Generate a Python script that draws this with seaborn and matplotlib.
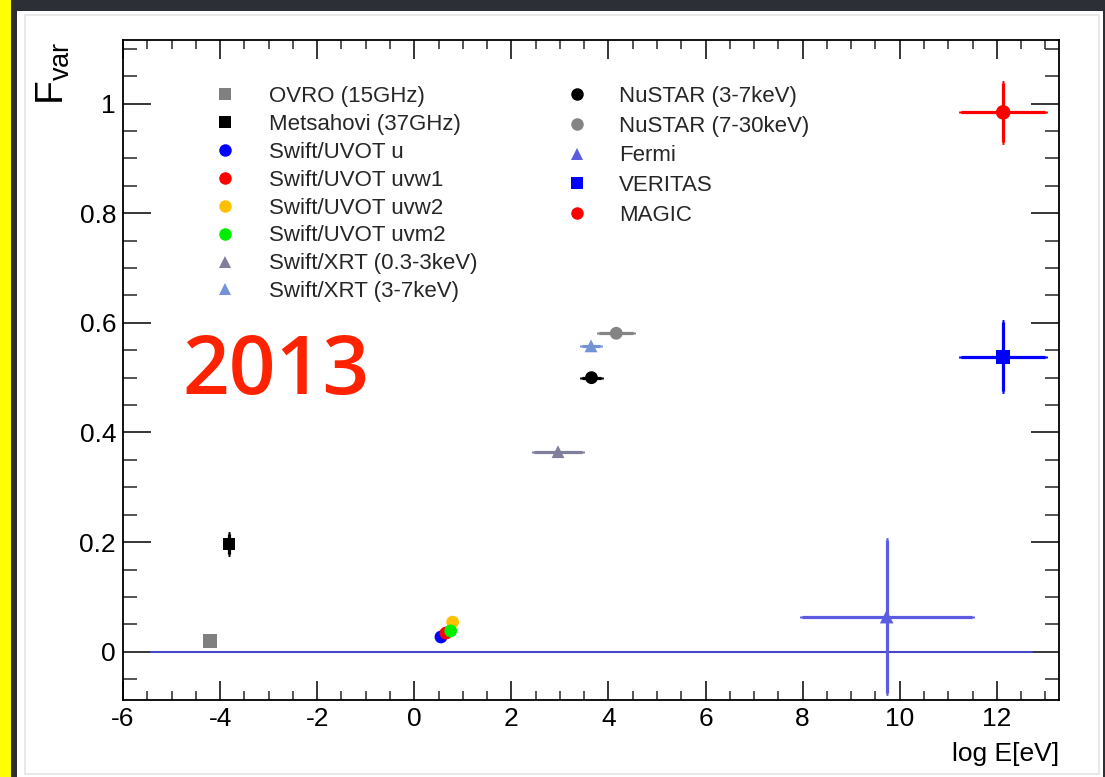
import numpy as np
import pandas as pd
import matplotlib
matplotlib.use("Agg")
import matplotlib.pyplot as plt
import seaborn as sns
from matplotlib.lines import Line2D
from matplotlib.patches import Rectangle
from matplotlib.ticker import MultipleLocator

# ---------------- data ----------------
instruments = ["OVRO (15GHz)", "Metsahovi (37GHz)", "Swift/UVOT u", "Swift/UVOT uvw1",
               "Swift/UVOT uvw2", "Swift/UVOT uvm2", "Swift/XRT (0.3-3keV)",
               "Swift/XRT (3-7keV)", "NuSTAR (3-7keV)", "NuSTAR (7-30keV)",
               "Fermi", "VERITAS", "MAGIC"]
log_e = [-4.21, -3.82, 0.55, 0.65, 0.79, 0.75, 2.96, 3.64, 3.65, 4.16, 9.73, 12.13, 12.13]
f_var = [0.020, 0.196, 0.027, 0.034, 0.054, 0.038, 0.365, 0.558, 0.500, 0.581, 0.064, 0.538, 0.984]
x_err = [0.0, 0.0, 0.0, 0.0, 0.0, 0.0, 0.50, 0.19, 0.20, 0.35, 1.75, 0.87, 0.87]
y_err = [0.0, 0.018, 0.0, 0.0, 0.0, 0.0, 0.0, 0.0, 0.0, 0.0, 0.14, 0.063, 0.054]

legend_col1 = instruments[:8]
legend_col2 = ["NuSTAR (3-7keV)", "NuSTAR (7-30keV)", "Fermi", "VERITAS", "MAGIC"]

zero_line_x = [-5.42, 12.72]
zero_line_y = [0.0, 0.0]

x_ticks = [-6, -4, -2, 0, 2, 4, 6, 8, 10, 12]
y_ticks = [0, 0.2, 0.4, 0.6, 0.8, 1]
y_tick_labels = ["0", "0.2", "0.4", "0.6", "0.8", "1"]

# ---------------- styles ----------------
colors = {
    "OVRO (15GHz)": "#808080", "Metsahovi (37GHz)": "#000000",
    "Swift/UVOT u": "#0000ff", "Swift/UVOT uvw1": "#ff0000",
    "Swift/UVOT uvw2": "#ffc000", "Swift/UVOT uvm2": "#00ee00",
    "Swift/XRT (0.3-3keV)": "#7f7f9c", "Swift/XRT (3-7keV)": "#7393d6",
    "NuSTAR (3-7keV)": "#000000", "NuSTAR (7-30keV)": "#848484",
    "Fermi": "#5c5ce0", "VERITAS": "#0000ff", "MAGIC": "#ff0000",
}
markers = {
    "OVRO (15GHz)": "s", "Metsahovi (37GHz)": "s",
    "Swift/UVOT u": "o", "Swift/UVOT uvw1": "o", "Swift/UVOT uvw2": "o",
    "Swift/UVOT uvm2": "o", "Swift/XRT (0.3-3keV)": "^", "Swift/XRT (3-7keV)": "^",
    "NuSTAR (3-7keV)": "o", "NuSTAR (7-30keV)": "o", "Fermi": "^",
    "VERITAS": "s", "MAGIC": "o",
}
sizes = {k: 85 for k in instruments}
sizes["Metsahovi (37GHz)"] = 75
sizes["OVRO (15GHz)"] = 95
sizes["VERITAS"] = 95
sizes["MAGIC"] = 110
sizes["Fermi"] = 95

df = pd.DataFrame({"instrument": instruments, "log_e": log_e, "f_var": f_var,
                   "x_err": x_err, "y_err": y_err})

sns.set_theme(style="ticks")
plt.rcParams["font.family"] = ["Liberation Sans", "DejaVu Sans"]
plt.rcParams["axes.unicode_minus"] = False
plt.rcParams["mathtext.fontset"] = "custom"
plt.rcParams["mathtext.rm"] = "Liberation Sans"

W, H = 1105, 777
fig = plt.figure(figsize=(W / 100, H / 100), dpi=100)
fig.patch.set_facecolor("#2c2f36")
# slide decorations
fig.patches.append(Rectangle((0, 0), 11 / W, 1, transform=fig.transFigure,
                             facecolor="#ffff00", edgecolor="none", zorder=-10))
fig.patches.append(Rectangle((17 / W, 0), (1103 - 17) / W, (777 - 11) / H,
                             transform=fig.transFigure, facecolor="white",
                             edgecolor="none", zorder=-10))
fig.patches.append(Rectangle((25 / W, 3 / H), (1099 - 25) / W, (762 - 3) / H,
                             transform=fig.transFigure, facecolor="none",
                             edgecolor="#e4e4e4", lw=1.2, zorder=-9))

ax = fig.add_axes([123 / W, 77 / H, (1059 - 123) / W, (700 - 40) / H])
ax.set_facecolor("white")

# zero line
sns.lineplot(x=zero_line_x, y=zero_line_y, ax=ax, color="#4646c8", lw=1.5, zorder=1)

# error bars
for _, r in df.iterrows():
    if r.x_err > 0 or r.y_err > 0:
        ax.errorbar(r.log_e, r.f_var,
                    xerr=r.x_err if r.x_err > 0 else None,
                    yerr=r.y_err if r.y_err > 0 else None,
                    fmt="none", ecolor=colors[r.instrument], elinewidth=2.3,
                    capsize=1.0, capthick=3.5, zorder=2)

sns.scatterplot(data=df, x="log_e", y="f_var", hue="instrument", style="instrument",
                size="instrument", sizes=sizes, palette=colors, markers=markers,
                hue_order=instruments, style_order=instruments,
                edgecolor="none", linewidth=0, legend=False, ax=ax, zorder=3)

ax.set_xlim(-6, 13.28)
ax.set_ylim(-0.088, 1.116)
ax.set_xticks(x_ticks)
ax.set_xticklabels([str(t) for t in x_ticks])
ax.set_yticks(y_ticks)
ax.set_yticklabels(y_tick_labels)
ax.xaxis.set_minor_locator(MultipleLocator(0.5))
ax.yaxis.set_minor_locator(MultipleLocator(0.05))
ax.tick_params(axis="x", which="major", direction="in", length=13.5, width=1.1,
               top=True, labelsize=19, pad=5, colors="black")
ax.tick_params(axis="x", which="minor", direction="in", length=6.8, width=1.1, top=True)
ax.tick_params(axis="y", which="major", direction="in", length=20, width=1.1,
               right=True, labelsize=19, pad=5, colors="black")
ax.tick_params(axis="y", which="minor", direction="in", length=10, width=1.1, right=True)
for sp in ax.spines.values():
    sp.set_visible(True)
    sp.set_linewidth(1.3)
    sp.set_color("black")

ax.set_xlabel("log E[eV]", fontsize=19, loc="right", color="black")
ax.xaxis.set_label_coords(1.0, -0.064)
ax.set_ylabel("")
fig.text(53 / W, 1 - 42 / H, r"$\mathregular{F_{var}}$", rotation=90, fontsize=28,
         ha="center", va="top", color="black")

ax.text(0.063, 0.495, "2013", transform=ax.transAxes, fontsize=59, fontweight="semibold",
        color="#ff2200", ha="left", va="center", family=["Open Sans", "DejaVu Sans"])

# legends
def handles(names):
    return [Line2D([], [], linestyle="none", marker=markers[n], color=colors[n],
                   markeredgewidth=0, markersize=9 if markers[n] != "s" else 8.5, label=n)
            for n in names]

leg1 = ax.legend(handles=handles(legend_col1), loc="upper left",
                 bbox_to_anchor=(213.5 / W, 1 - 86 / H), bbox_transform=fig.transFigure,
                 frameon=False, fontsize=16, handlelength=1.0, handletextpad=1.5,
                 labelspacing=0.31, borderpad=0, borderaxespad=0)
ax.add_artist(leg1)
ax.legend(handles=handles(legend_col2), loc="upper left",
          bbox_to_anchor=(565.5 / W, 1 - 86 / H), bbox_transform=fig.transFigure,
          frameon=False, fontsize=16, handlelength=1.0, handletextpad=1.42,
          labelspacing=0.39, borderpad=0, borderaxespad=0)

fig.savefig("out.png", dpi=100, facecolor=fig.get_facecolor())
